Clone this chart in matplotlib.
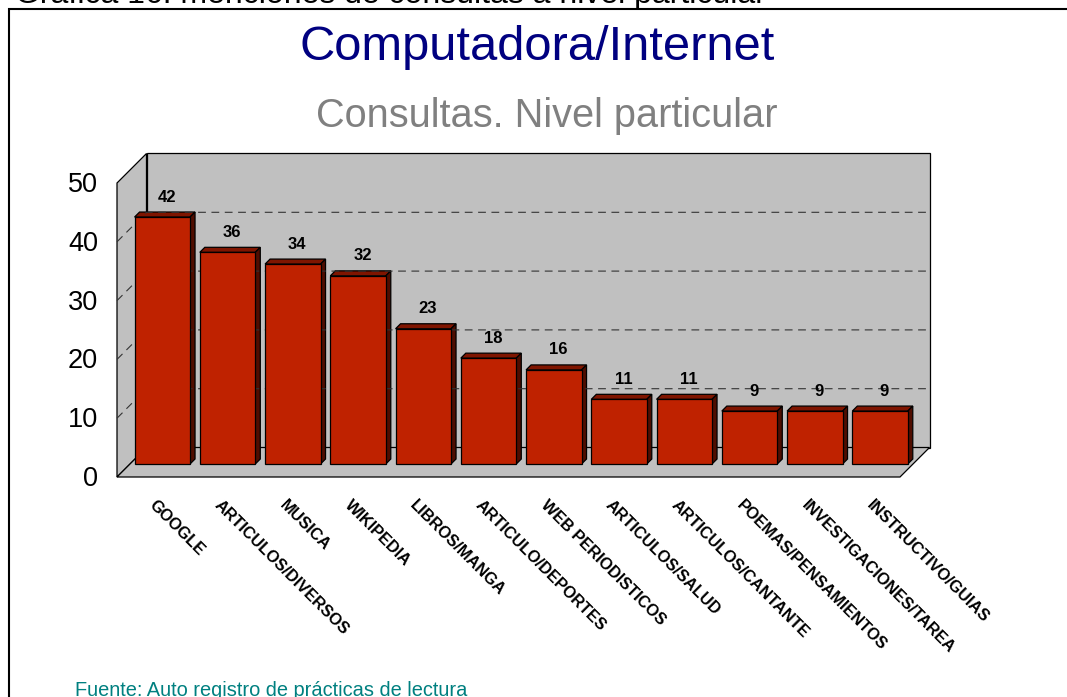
import matplotlib
matplotlib.use('Agg')
from matplotlib import pyplot as plt
from matplotlib.patches import Polygon, Rectangle

categories = ['GOOGLE', 'ARTICULOS/DIVERSOS', 'MUSICA', 'WIKIPEDIA', 'LIBROS/MANGA',
              'ARTICULO/DEPORTES', 'WEB PERIODISTICOS', 'ARTICULOS/SALUD',
              'ARTICULOS/CANTANTE', 'POEMAS/PENSAMIENTOS', 'INVESTIGACIONES/TAREA',
              'INSTRUCTIVO/GUIAS']
values = [42, 36, 34, 32, 23, 18, 16, 11, 11, 9, 9, 9]
y_ticks = [0, 10, 20, 30, 40, 50]

W, H = 1067, 697
plt.rcParams['font.family'] = ['Liberation Sans', 'DejaVu Sans']

fig = plt.figure(figsize=(W / 100, H / 100), dpi=100)

# frame and the cut off caption above it
fig.add_artist(Rectangle((9 / W, -0.1), 1.1, 1.1 - 9 / H, fill=False, ec='black', lw=1.5,
                         transform=fig.transFigure))
fig.text(15 / W, 1 - 3 / H, 'Gráfica 16. menciones de consultas a nivel particular',
         fontsize=23, ha='left', va='baseline')
fig.text(537 / W, 1 - 47 / H, 'Computadora/Internet', color='#000080', fontsize=35.2,
         ha='center', va='center')
fig.text(547 / W, 1 - 116 / H, 'Consultas. Nivel particular', color='#808080', fontsize=28.6,
         ha='center', va='center')
fig.text(75 / W, 1 - 696 / H, 'Fuente: Auto registro de prácticas de lectura', color='#008080',
         fontsize=14.4, ha='left', va='baseline')

# front plane of the 3d box
left, right, bottom, top = 117, 900, 477, 183
ax = fig.add_axes([left / W, 1 - bottom / H, (right - left) / W, (bottom - top) / H])
ax.set_xlim(0, len(categories))
ax.set_ylim(0, 50)
ax.axis('off')
sx = (right - left) / len(categories)
sy = (bottom - top) / 50


def off(x, y, d):
    # move a data point d pixels back into the box
    return (x + d / sx, y + d / sy)


def poly(pts, **kw):
    kw.setdefault('lw', 0.9)
    kw.setdefault('ec', 'black')
    ax.add_patch(Polygon(pts, closed=True, clip_on=False, joinstyle='miter', **kw))


n = len(categories)
D = 29.5
poly([off(0, 0, 0), off(0, 50, 0), off(0, 50, D), off(0, 0, D)], fc='#c0c0c0')
poly([off(0, 0, D), off(0, 50, D), off(n, 50, D), off(n, 0, D)], fc='#c0c0c0')
poly([off(0, 0, 0), off(n, 0, 0), off(n, 0, D), off(0, 0, D)], fc='#c0c0c0')

for t in y_ticks[1:-1]:
    ax.plot(*zip(off(0, t, 0), off(0, t, D), off(n, t, D)), color='#333333', lw=0.8,
            dashes=(7, 5), clip_on=False)

bar_w = 0.85
d0 = 13
d1 = 18
for i, v in enumerate(values):
    x0 = i + 0.5 - bar_w / 2 - 0.005
    x1 = x0 + bar_w
    poly([off(x0, v, d0), off(x1, v, d0), off(x1, v, d1), off(x0, v, d1)], fc='#7f1500')
    poly([off(x1, 0, d0), off(x1, v, d0), off(x1, v, d1), off(x1, 0, d1)], fc='#4f0d00')
bx = [off(i + 0.495, 0, d0)[0] for i in range(n)]
ax.bar(bx, values, width=bar_w, bottom=d0 / sy, color='#bf2200',
       edgecolor='black', linewidth=0.9, clip_on=False, zorder=3)

for i, v in enumerate(values):
    x, y = off(i + 0.5, v, d0)
    ax.annotate(str(v), (x, y), xytext=(4, 20), textcoords='offset pixels', ha='center',
                va='center', fontsize=12, fontweight='bold', zorder=5)
    ax.annotate(categories[i], (x, 0), xytext=(-6, -21), textcoords='offset pixels', ha='left',
                va='top', rotation=-45, rotation_mode='anchor', fontsize=11.7, fontweight='bold',
                annotation_clip=False)

for t in y_ticks:
    ax.annotate(str(t), (0, t), xytext=(-19, -2), textcoords='offset pixels', ha='right',
                va='center', fontsize=19.5, annotation_clip=False)

plt.savefig('out.png', dpi=100)
plt.close()
